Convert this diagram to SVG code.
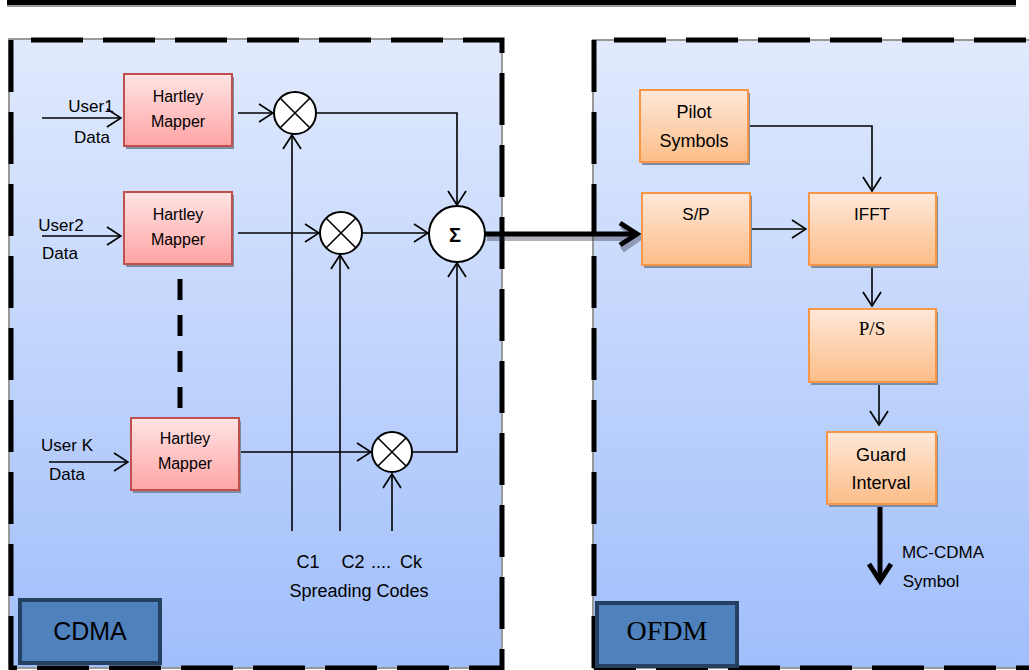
<svg xmlns="http://www.w3.org/2000/svg" width="1029" height="670" viewBox="0 0 1029 670">
<defs>
<linearGradient id="panel" x1="0" y1="40" x2="0" y2="668" gradientUnits="userSpaceOnUse">
<stop offset="0" stop-color="#e1eafd"/><stop offset="1" stop-color="#a0befb"/>
</linearGradient>
<linearGradient id="pink" x1="0" y1="0" x2="0" y2="1">
<stop offset="0" stop-color="#ffe4e4"/><stop offset="1" stop-color="#ffa4a4"/>
</linearGradient>
<linearGradient id="orange" x1="0" y1="0" x2="0" y2="1">
<stop offset="0" stop-color="#fee8d9"/><stop offset="1" stop-color="#fcbd88"/>
</linearGradient>
<marker id="open" viewBox="0 0 16 20" refX="15" refY="10" markerWidth="16" markerHeight="20" markerUnits="userSpaceOnUse" orient="auto">
<path d="M1,1 L15,10 L1,19" fill="none" stroke="#000" stroke-width="1.7"/>
</marker>
</defs>
<style>
.t{font-family:"Liberation Sans",Arial,sans-serif;fill:#000;text-anchor:middle}
.s{font-family:"Liberation Serif","Times New Roman",serif;fill:#000;text-anchor:middle}
.pk{fill:url(#pink);stroke:#c0504d;stroke-width:2}
.or{fill:url(#orange);stroke:#f79646;stroke-width:2}
.sh{fill:#7d8ba3}
.ln{fill:none;stroke:#000;stroke-width:1.6}
.ar{fill:none;stroke:#000;stroke-width:1.6;marker-end:url(#open)}
.cir{fill:#fff;stroke:#000;stroke-width:2}
.dash{fill:none;stroke:#000;stroke-width:5;stroke-dasharray:52 20}
.lab{fill:#4f81bd;stroke:#243f60;stroke-width:4}
</style>

<!-- top bar -->
<rect x="7" y="1" width="1009" height="6" fill="#999"/>
<rect x="7" y="0" width="1009" height="5" fill="#000"/>

<!-- panels -->
<g id="cdma-panel">
<rect x="9" y="39" width="493" height="629" fill="url(#panel)" stroke="#999" stroke-width="2"/>
<path class="dash" d="M11,668 L11,40 L502,40 L502,668 Z"/>
</g>
<g id="ofdm-panel">
<rect x="593" y="40" width="440" height="628" fill="url(#panel)" stroke="#999" stroke-width="2"/>
<path class="dash" d="M594,668 L594,40 L1040,40"/>
<path class="dash" d="M594,668 L1040,668" stroke-dashoffset="10"/>
</g>

<!-- connectors -->
<g id="connectors">
<line class="ar" x1="42" y1="118" x2="121" y2="118"/>
<line class="ar" x1="42" y1="236" x2="121" y2="236"/>
<line class="ar" x1="49" y1="462" x2="128" y2="462"/>
<line class="ar" x1="238" y1="113" x2="273" y2="113"/>
<line class="ar" x1="238" y1="233" x2="319" y2="233"/>
<line class="ar" x1="239" y1="452" x2="371" y2="452"/>
<polyline class="ar" points="316,113 457,113 457,205"/>
<line class="ar" x1="362" y1="233" x2="428" y2="233"/>
<polyline class="ar" points="413,452 457,452 457,263"/>
<line class="ar" x1="292" y1="531" x2="292" y2="135"/>
<line class="ar" x1="340" y1="531" x2="340" y2="255"/>
<line class="ar" x1="392" y1="531" x2="392" y2="474"/>
<line x1="180" y1="279" x2="180" y2="410" stroke="#000" stroke-width="5" stroke-dasharray="21 15"/>
<!-- big arrow -->
<g transform="translate(2,4)" opacity="0.35">
<line x1="485" y1="234" x2="636" y2="234" stroke="#223" stroke-width="6"/>
<polyline points="620,222 637,234 620,246" fill="none" stroke="#223" stroke-width="6"/>
</g>
<line x1="485" y1="234" x2="636" y2="234" stroke="#000" stroke-width="5"/>
<polyline points="620,223 637,234 620,245" fill="none" stroke="#000" stroke-width="5"/>
<!-- OFDM side -->
<polyline class="ar" points="748,126 872,126 872,191"/>
<line class="ar" x1="750" y1="229" x2="806" y2="229"/>
<line class="ar" x1="872" y1="265" x2="872" y2="306"/>
<line class="ar" x1="879" y1="382" x2="879" y2="425"/>
<line x1="880" y1="506" x2="880" y2="581" stroke="#000" stroke-width="5"/>
<polyline points="869,564 880,581 891,564" fill="none" stroke="#000" stroke-width="5"/>
</g>

<!-- nodes -->
<g id="mapper1">
<rect class="sh" x="126" y="77" width="108" height="72"/>
<rect class="pk" x="124" y="74" width="108" height="72"/>
<text class="t" x="178" y="102" font-size="16">Hartley</text>
<text class="t" x="178" y="127" font-size="16">Mapper</text>
</g>
<g id="mapper2">
<rect class="sh" x="126" y="195" width="108" height="72"/>
<rect class="pk" x="124" y="192" width="108" height="72"/>
<text class="t" x="178" y="220" font-size="16">Hartley</text>
<text class="t" x="178" y="245" font-size="16">Mapper</text>
</g>
<g id="mapperK">
<rect class="sh" x="133" y="421" width="108" height="72"/>
<rect class="pk" x="131" y="418" width="108" height="72"/>
<text class="t" x="185" y="444" font-size="16">Hartley</text>
<text class="t" x="185" y="469" font-size="16">Mapper</text>
</g>
<g id="mult1">
<circle class="cir" cx="295" cy="113" r="21"/>
<path class="ln" d="M280,98 L310,128 M310,98 L280,128" stroke-width="2"/>
</g>
<g id="mult2">
<circle class="cir" cx="341" cy="233" r="21"/>
<path class="ln" d="M326,218 L356,248 M356,218 L326,248" stroke-width="2"/>
</g>
<g id="multK">
<circle class="cir" cx="392" cy="452" r="20"/>
<path class="ln" d="M378,438 L406,466 M406,438 L378,466" stroke-width="2"/>
</g>
<g id="sum">
<circle class="cir" cx="457" cy="234" r="28"/>
<text class="t" x="455" y="242" font-size="20" font-weight="bold">Σ</text>
</g>
<g id="user-labels">
<text class="t" x="91" y="112" font-size="17">User1</text>
<text class="t" x="92" y="143" font-size="17">Data</text>
<text class="t" x="61" y="231" font-size="17">User2</text>
<text class="t" x="60" y="259" font-size="17">Data</text>
<text class="t" x="67" y="451" font-size="17">User K</text>
<text class="t" x="67" y="480" font-size="17">Data</text>
</g>
<g id="codes">
<text class="t" x="308" y="568" font-size="18">C1</text>
<text class="t" x="353" y="568" font-size="18">C2</text>
<text class="t" x="381" y="568" font-size="18">....</text>
<text class="t" x="411" y="568" font-size="18">Ck</text>
<text class="t" x="359" y="597" font-size="18">Spreading Codes</text>
</g>
<g id="cdma-label">
<rect class="lab" x="20" y="600" width="140" height="63"/>
<text class="t" x="90" y="640" font-size="25">CDMA</text>
</g>
<g id="pilot">
<rect class="sh" x="642" y="93" width="108" height="72"/>
<rect class="or" x="640" y="90" width="108" height="72"/>
<text class="t" x="694" y="118" font-size="18">Pilot</text>
<text class="t" x="694" y="147" font-size="18">Symbols</text>
</g>
<g id="sp">
<rect class="sh" x="644" y="196" width="108" height="72"/>
<rect class="or" x="642" y="193" width="108" height="72"/>
<text class="t" x="696" y="220" font-size="17">S/P</text>
</g>
<g id="ifft">
<rect class="sh" x="811" y="196" width="127" height="72"/>
<rect class="or" x="809" y="193" width="127" height="72"/>
<text class="t" x="872" y="220" font-size="17">IFFT</text>
</g>
<g id="ps">
<rect class="sh" x="811" y="312" width="127" height="73"/>
<rect class="or" x="809" y="309" width="127" height="73"/>
<text class="s" x="872" y="335" font-size="19">P/S</text>
</g>
<g id="guard">
<rect class="sh" x="829" y="435" width="109" height="72"/>
<rect class="or" x="827" y="432" width="109" height="72"/>
<text class="t" x="881" y="461" font-size="18">Guard</text>
<text class="t" x="881" y="489" font-size="18">Interval</text>
</g>
<g id="output-label">
<text class="t" x="943" y="558" font-size="17">MC-CDMA</text>
<text class="t" x="931" y="587" font-size="17">Symbol</text>
</g>
<g id="ofdm-label">
<rect class="lab" x="597" y="603" width="140" height="63"/>
<text class="s" x="667" y="640" font-size="28">OFDM</text>
</g>
</svg>
